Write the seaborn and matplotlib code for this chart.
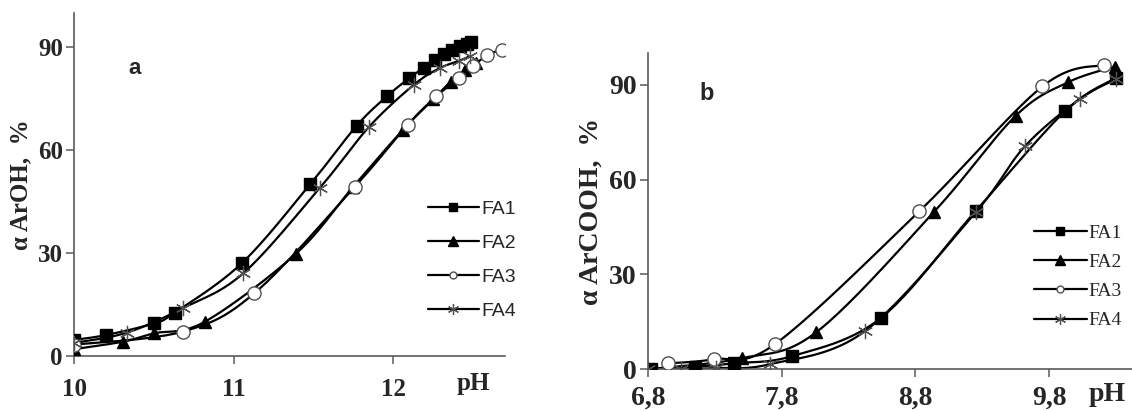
import numpy as np
import pandas as pd
import matplotlib
matplotlib.use("Agg")
import matplotlib.pyplot as plt
from matplotlib.lines import Line2D
import seaborn as sns

# ---------------- data: panel a (ArOH) ----------------
a_fa1_ph = [10.00, 10.20, 10.50, 10.63, 11.05, 11.48, 11.77, 11.96, 12.10, 12.19, 12.26, 12.32, 12.37, 12.42, 12.46, 12.49]
a_fa1_al = [4.7, 6.1, 9.5, 12.6, 27.0, 50.1, 67.1, 75.7, 81.0, 84.0, 86.2, 88.0, 89.3, 90.3, 91.0, 91.6]
a_fa2_ph = [10.00, 10.31, 10.50, 10.82, 11.39, 11.75, 12.06, 12.25, 12.36, 12.45, 12.52]
a_fa2_al = [2.0, 4.2, 6.6, 10.0, 29.8, 49.4, 65.9, 74.8, 80.0, 83.4, 85.4]
a_fa3_ph = [10.00, 10.68, 11.13, 11.76, 12.09, 12.27, 12.41, 12.50, 12.59, 12.68]
a_fa3_al = [3.3, 7.1, 18.3, 49.4, 67.4, 75.7, 81.0, 84.5, 87.8, 89.3]
a_fa4_ph = [10.00, 10.33, 10.68, 11.06, 11.54, 11.85, 12.13, 12.29, 12.41, 12.48]
a_fa4_al = [3.8, 6.8, 13.9, 24.1, 49.0, 66.9, 79.1, 83.9, 86.0, 87.4]

# ---------------- data: panel b (ArCOOH) ----------------
b_fa1_ph = [6.82, 7.15, 7.44, 7.88, 8.54, 9.25, 9.92, 10.30]
b_fa1_al = [0.0, 0.7, 1.8, 4.1, 16.1, 50.0, 81.7, 92.2]
b_fa2_ph = [6.82, 7.50, 8.06, 8.94, 9.55, 9.94, 10.29]
b_fa2_al = [0.0, 3.4, 11.7, 49.8, 80.2, 90.8, 95.8]
b_fa3_ph = [6.95, 7.29, 7.75, 8.83, 9.75, 10.21]
b_fa3_al = [1.8, 3.1, 7.9, 50.0, 89.5, 96.4]
b_fa4_ph = [6.80, 7.05, 7.31, 7.71, 8.42, 9.25, 9.62, 10.03, 10.30]
b_fa4_al = [0.0, 0.0, 0.3, 1.5, 11.9, 49.6, 70.6, 85.5, 91.8]

series_names = ["FA1", "FA2", "FA3", "FA4"]
a_x_ticks = [10, 11, 12]
a_x_labels = ["10", "11", "12"]
b_x_ticks = [6.8, 7.8, 8.8, 9.8]
b_x_labels = ["6,8", "7,8", "8,8", "9,8"]
y_ticks = [0, 30, 60, 90]
y_labels = ["0", "30", "60", "90"]

sns.set_theme(style="white")
plt.rcParams["font.family"] = ["Liberation Serif", "DejaVu Serif"]

SPINE = "#5a5a5a"

marker_styles = {
    "FA1": dict(marker="s", ms=8, mfc="black", mec="black", mew=1.0),
    "FA2": dict(marker="^", ms=8.5, mfc="black", mec="black", mew=1.0),
    "FA3": dict(marker="o", ms=9.5, mfc="white", mec="#505050", mew=1.0),
    "FA4": dict(marker=(6, 2, 0), ms=11, mfc="#505050", mec="#505050", mew=0.9),
}
legend_styles = {
    "FA1": dict(marker="s", ms=6, mfc="black", mec="black"),
    "FA2": dict(marker="^", ms=6.5, mfc="black", mec="black"),
    "FA3": dict(marker="o", ms=5, mfc="white", mec="#505050", mew=1.0),
    "FA4": dict(marker=(6, 2, 0), ms=8, mfc="#505050", mec="#505050", mew=0.9),
}


def smooth(x, y, n=24):
    """Excel-like smoothed line: Catmull-Rom / Bezier through the data points."""
    P = np.column_stack([x, y]).astype(float)
    out = [P[0]]
    t = np.linspace(0, 1, n + 1)[1:, None]
    for i in range(len(P) - 1):
        p0 = P[i - 1] if i > 0 else P[i]
        p3 = P[i + 2] if i + 2 < len(P) else P[i + 1]
        c1 = P[i] + (P[i + 1] - p0) / 6.0
        c2 = P[i + 1] - (p3 - P[i]) / 6.0
        seg = ((1 - t) ** 3) * P[i] + 3 * ((1 - t) ** 2) * t * c1 + 3 * (1 - t) * t ** 2 * c2 + t ** 3 * P[i + 1]
        out.extend(seg)
    out = np.array(out)
    return out[:, 0], out[:, 1]


def draw_panel(ax, data, xlim, xticks, xlabels, ylabel, ylabel_pad, tick_fs, xpad, ylab_fs):
    for name, (xs, ys) in zip(series_names, data):
        cx, cy = smooth(xs, ys)
        df = pd.DataFrame({"pH": cx, "alpha": cy})
        sns.lineplot(data=df, x="pH", y="alpha", sort=False, estimator=None,
                     color="black", lw=1.6, ax=ax)
        ax.plot(xs, ys, linestyle="none", zorder=3, **marker_styles[name])
    ax.set_xlim(*xlim)
    ax.set_ylim(0, 100)
    ax.set_xticks(xticks)
    ax.set_xticklabels(xlabels)
    ax.set_yticks(y_ticks)
    ax.set_yticklabels(y_labels)
    for s in ["top", "right"]:
        ax.spines[s].set_visible(False)
    for s in ["left", "bottom"]:
        ax.spines[s].set_color(SPINE)
        ax.spines[s].set_linewidth(1.2)
    ax.tick_params(axis="both", direction="out", length=6, width=1.1, color=SPINE,
                   labelsize=tick_fs, left=True, bottom=True)
    ax.tick_params(axis="x", pad=xpad)
    ax.tick_params(axis="y", pad=2)
    for lab in ax.get_xticklabels() + ax.get_yticklabels():
        lab.set_fontweight("bold")
    ax.set_xlabel("")
    ax.set_ylabel(ylabel, fontsize=ylab_fs, fontweight="bold", labelpad=ylabel_pad)


fig = plt.figure(figsize=(11.32, 4.11), dpi=100)
ax_a = fig.add_axes([74 / 1132, (411 - 356) / 411, (505 - 74) / 1132, 343 / 411])
ax_b = fig.add_axes([648 / 1132, (411 - 369) / 411, (1132 - 648) / 1132, (369 - 53.3) / 411])

draw_panel(ax_a,
           [(a_fa1_ph, a_fa1_al), (a_fa2_ph, a_fa2_al), (a_fa3_ph, a_fa3_al), (a_fa4_ph, a_fa4_al)],
           (10, 12.7), a_x_ticks, a_x_labels, "\u03b1 ArOH,  %", 4, 18, 10, 18)
draw_panel(ax_b,
           [(b_fa1_ph, b_fa1_al), (b_fa2_ph, b_fa2_al), (b_fa3_ph, b_fa3_al), (b_fa4_ph, b_fa4_al)],
           (6.8, 10.42), b_x_ticks, b_x_labels, "\u03b1 ArCOOH,  %", 4, 20, 6, 20)

# panel letters
fig.text(135 / 1132, 1 - 68 / 411, "a", fontsize=16, fontweight="bold",
         family=["Liberation Sans", "DejaVu Sans"], ha="center", va="center")
fig.text(707 / 1132, 1 - 93 / 411, "b", fontsize=17, fontweight="bold",
         family=["Liberation Sans", "DejaVu Sans"], ha="center", va="center")

# pH labels
fig.text(473 / 1132, 1 - 383 / 411, "pH", fontsize=18, fontweight="bold", ha="center", va="center")
fig.text(1107 / 1132, 1 - 394 / 411, "pH", fontsize=20, fontweight="bold", ha="center", va="center")

# legends
def make_handles():
    return [Line2D([], [], color="black", lw=1.6, **legend_styles[n]) for n in series_names]

leg_a = fig.legend(make_handles(), series_names, loc="upper left",
                   bbox_to_anchor=(428 / 1132, 1 - 200 / 411), frameon=False,
                   borderpad=0, borderaxespad=0, handlelength=2.6, handletextpad=0.15,
                   labelspacing=0.85,
                   prop=dict(family=["Liberation Sans Narrow", "Liberation Sans", "DejaVu Sans"], size=14))
leg_b = fig.legend(make_handles(), series_names, loc="upper left",
                   bbox_to_anchor=(1034 / 1132, 1 - 224 / 411), frameon=False,
                   borderpad=0, borderaxespad=0, handlelength=2.7, handletextpad=0.12,
                   labelspacing=0.6,
                   prop=dict(family=["Liberation Serif", "DejaVu Serif"], size=14))

fig.savefig("out.png", dpi=100)
